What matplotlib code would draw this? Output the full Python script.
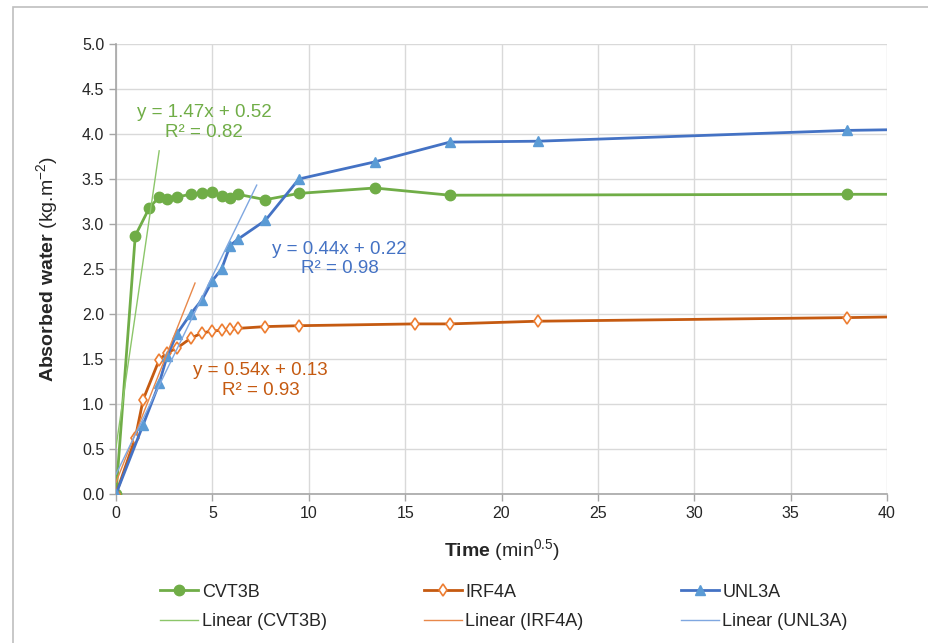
import matplotlib
matplotlib.use('Agg')
import matplotlib.pyplot as plt
import numpy as np
from matplotlib.patches import Rectangle

plt.rcParams['font.family'] = ['Liberation Sans', 'DejaVu Sans']
plt.rcParams['mathtext.fontset'] = 'custom'
plt.rcParams['mathtext.rm'] = 'Liberation Sans'
plt.rcParams['mathtext.bf'] = 'Liberation Sans:bold'

# time in min^0.5, absorbed water in kg/m2
t_cvt = [0, 1, 1.73, 2.24, 2.65, 3.16, 3.87, 4.47, 5, 5.48, 5.92, 6.32, 7.75,
         9.49, 13.42, 17.32, 37.95, 44]
w_cvt = [0, 2.87, 3.18, 3.30, 3.28, 3.30, 3.33, 3.34, 3.36, 3.31, 3.29, 3.33,
         3.27, 3.34, 3.40, 3.32, 3.33, 3.33]

t_irf = [0, 1, 1.41, 2.24, 2.65, 3.16, 3.87, 4.47, 5, 5.48, 5.92, 6.32, 7.75,
         9.49, 15.49, 17.32, 21.91, 37.95, 44]
w_irf = [0, 0.62, 1.05, 1.49, 1.57, 1.62, 1.73, 1.79, 1.81, 1.82, 1.83, 1.84,
         1.86, 1.87, 1.89, 1.89, 1.92, 1.96, 1.98]

t_unl = [0, 1.41, 2.24, 2.65, 3.16, 3.87, 4.47, 5, 5.48, 5.92, 6.32, 7.75,
         9.49, 13.42, 17.32, 21.91, 37.95, 44]
w_unl = [0, 0.77, 1.23, 1.53, 1.78, 2.0, 2.16, 2.37, 2.5, 2.76, 2.83, 3.04,
         3.5, 3.69, 3.91, 3.92, 4.04, 4.06]

# linear trendlines: slope, intercept, R2, x range end
fit_cvt = (1.47, 0.52, 0.82, 2.24)
fit_irf = (0.54, 0.13, 0.93, 4.1)
fit_unl = (0.44, 0.22, 0.98, 7.3)

fig = plt.figure(figsize=(9.29, 6.43), dpi=100)
ax = fig.add_axes([116 / 929, 1 - 494 / 643, 771 / 929, 450 / 643])

# chart area border (top/left visible)
fig.patches.append(Rectangle((13 / 929, -0.1), 1.2, 1 - 7 / 643 + 0.1,
                             transform=fig.transFigure, fill=False,
                             edgecolor='#bfbfbf', lw=1.2))

l1, = ax.plot(t_cvt, w_cvt, '-o', color='#70AD47', lw=2, ms=7.5,
              label='CVT3B', zorder=3)
l2, = ax.plot(t_irf, w_irf, '-d', color='#C55A11', lw=2, ms=6.5,
              mfc='white', mec='#ED7D31', mew=1.2, label='IRF4A', zorder=3)
l3, = ax.plot(t_unl, w_unl, '-^', color='#4472C4', lw=2, ms=6.5,
              mfc='#5B9BD5', mec='#5B9BD5', label='UNL3A', zorder=4)

trend_cols = ['#8CC66A', '#E8884A', '#7FA7E0']
text_cols = ['#70AD47', '#C55A11', '#4472C4']
labels = ['Linear (CVT3B)', 'Linear (IRF4A)', 'Linear (UNL3A)']
text_pos = [(4.57, 4.13), (7.5, 1.26), (11.6, 2.61)]
trends = []
for fit, c, tc, lab, pos in zip([fit_cvt, fit_irf, fit_unl], trend_cols,
                                text_cols, labels, text_pos):
    m, b, r2, xe = fit
    xs = np.array([0, xe])
    ln, = ax.plot(xs, m * xs + b, color=c, lw=1, label=lab, zorder=5)
    trends.append(ln)
    ax.text(pos[0], pos[1], f'y = {m:.2f}x + {b:.2f}\nR² = {r2:.2f}',
            color=tc, fontsize=13.5, ha='center', va='center',
            multialignment='center', linespacing=1.2)

ax.set_xlim(0, 40)
ax.set_ylim(0, 5)
ax.set_xticks(np.arange(0, 41, 5))
ax.set_yticks(np.arange(0, 5.01, 0.5))
ax.set_yticklabels([f'{v:.1f}' for v in np.arange(0, 5.01, 0.5)])
ax.grid(True, color='#d9d9d9', lw=1)
ax.set_axisbelow(True)
for s in ['top', 'right']:
    ax.spines[s].set_visible(False)
for s in ['left', 'bottom']:
    ax.spines[s].set_color('#a6a6a6')
    ax.spines[s].set_linewidth(1.2)
ax.tick_params(axis='both', colors='#a6a6a6', labelcolor='#262626',
               labelsize=11.5, length=5, width=1)

ax.set_xlabel(r'$\mathbf{Time}$ (min$^{0.5}$)', fontsize=14, color='#262626',
              labelpad=12)
ax.set_ylabel(r'$\mathbf{Absorbed\ water}$ (kg.m$^{-2}$)', fontsize=14,
              color='#262626', labelpad=15)

handles = [l1, trends[0], l2, trends[1], l3, trends[2]]
fig.legend(handles=handles, labels=[h.get_label() for h in handles],
           loc='center', bbox_to_anchor=(504 / 929, 1 - 607 / 643), ncol=3,
           frameon=False, fontsize=13, handlelength=2.1, handletextpad=0.2,
           columnspacing=5.38, labelspacing=0.7, labelcolor='#262626')

fig.savefig('out.png', dpi=100)
